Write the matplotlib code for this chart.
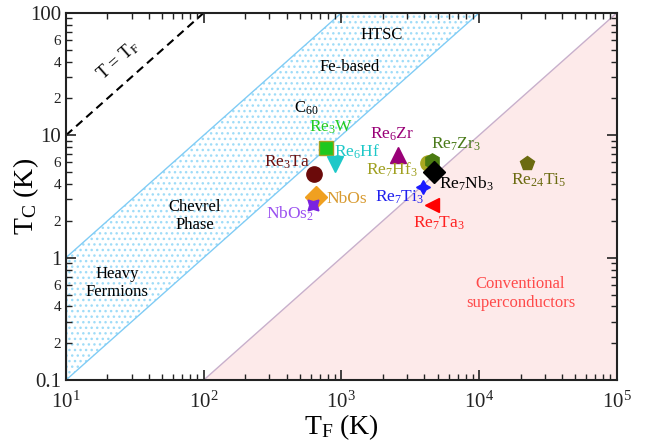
import numpy as np
import matplotlib
matplotlib.use("Agg")
import matplotlib.pyplot as plt
from matplotlib.ticker import FixedLocator, FuncFormatter, LogFormatterMathtext, NullFormatter

plt.rcParams['font.family'] = ['Liberation Serif', 'DejaVu Serif']
plt.rcParams['mathtext.fontset'] = 'custom'
plt.rcParams['mathtext.rm'] = 'Liberation Serif'
plt.rcParams['mathtext.it'] = 'Liberation Serif:italic'
plt.rcParams['mathtext.bf'] = 'Liberation Serif:bold'
plt.rcParams['hatch.linewidth'] = 1.0

# ---- data ----
materials = ["Re$_3$W", "Re$_6$Hf", "Re$_3$Ta", "NbOs", "NbOs$_2$", "Re$_6$Zr",
             "Re$_7$Hf$_3$", "Re$_7$Zr$_3$", "Re$_7$Nb$_3$", "Re$_7$Ti$_3$",
             "Re$_7$Ta$_3$", "Re$_{24}$Ti$_5$"]
TF = [774, 905, 637, 659, 617, 2590, 4265, 4560, 4720, 3930, 4560, 22300]
TC = [7.8, 5.8, 4.8, 3.16, 2.7, 6.85, 5.9, 6.2, 5.0, 3.8, 2.7, 5.9]

# label positions (data coords)
label_x = [841, 1306, 406, 1086, 420, 2345, 2345, 6800, 8050, 2630, 5130, 27200]
label_y = [11.6, 7.3, 6.0, 3.0, 2.3, 10.2, 5.2, 8.4, 4.05, 3.1, 1.9, 4.3]

# styles
markers = ['s', 'v', 'o', 'D', (4, 1, 45), '^', 'o', 'h', 'D', (4, 1, 0), '<', 'p']
mcolors = ['#1ec81e', '#1ec8c8', '#6b0a0a', '#f0a020', '#7a22e0', '#990077',
           '#a8a820', '#4a7a10', '#000000', '#1a1aff', '#ff0000', '#6b6b10']
medges = ['#a0a020', '#1ec8c8', '#6b0a0a', '#f0a020', '#7a22e0', '#990077',
          '#a8a820', '#4a7a10', '#000000', '#1a1aff', '#ff0000', '#6b6b10']
msizes = [10, 11, 11, 11, 11, 11, 11, 11, 11, 10, 10, 10]
lcolors = ['#22cc22', '#1ec8c8', '#6b1010', '#d89a30', '#9a50f0', '#990077',
           '#a0a020', '#4a7a1a', '#000000', '#2020ee', '#ff2020', '#6b6b10']

fig = plt.figure(figsize=(6.62, 4.44), dpi=100)
ax = fig.add_axes([0.0997, 0.144, 0.832, 0.827])
ax.set_xscale('log')
ax.set_yscale('log')
ax.set_xlim(10, 1e5)
ax.set_ylim(0.1, 100)

xx = np.logspace(1, 5, 200)
# pink conventional region
ax.fill_between(xx, 0.1, np.clip(xx / 1000, 0.1, 100), facecolor='#fdeaea', edgecolor='none', zorder=0)
ax.plot(xx, xx / 1000, color='#c8b0cc', lw=1.0, zorder=1)
# band of unconventional
ax.fill_between(xx, np.clip(xx / 100, 0.1, 100), np.clip(xx / 10, 0.1, 100),
                facecolor='none', edgecolor='#9fdcf8', hatch='...', linewidth=0, zorder=0)
ax.plot(xx, xx / 10, color='#80ccf5', lw=1.0, zorder=1)
ax.plot(xx, xx / 100, color='#80ccf5', lw=1.0, zorder=1)
ax.plot([10, 10], [0.1, 1], color='#80ccf5', lw=1.0, zorder=1)
# T = TF
ax.plot(xx, xx, color='black', ls='--', lw=1.5, dashes=(4, 2.5), zorder=1)
ax.text(24, 41, "T = T$_\\mathrm{F}$", rotation=41.5, ha='center', va='center', fontsize=13)

# region labels
ax.text(1950, 66, "HTSC", ha='center', va='center', fontsize=12)
ax.text(1143, 36, "Fe-based", ha='center', va='center', fontsize=12)
ax.text(557, 16.6, "C$_{60}$", ha='center', va='center', fontsize=12)
ax.text(86, 2.2, "Chevrel\nPhase", ha='center', va='center', fontsize=12, linespacing=1.2)
ax.text(23.4, 0.62, "Heavy\nFermions", ha='center', va='center', fontsize=12, linespacing=1.2)
ax.text(2.0e4, 0.51, "Conventional\nsuperconductors", ha='center', va='center', fontsize=12,
        color='#ff4a4a', linespacing=1.2)

for i in range(len(materials)):
    ax.plot(TF[i], TC[i], marker=markers[i], ms=msizes[i], color=mcolors[i],
            mec=medges[i], mew=1.0, ls='none', zorder=3)
    ax.text(label_x[i], label_y[i], materials[i], color=lcolors[i], fontsize=12.5,
            ha='center', va='center', zorder=4)

# ticks
ax.xaxis.set_major_formatter(LogFormatterMathtext())
ax.xaxis.set_minor_formatter(NullFormatter())
ax.yaxis.set_major_locator(FixedLocator([0.1, 1, 10, 100]))
ax.yaxis.set_major_formatter(FuncFormatter(lambda v, p: {0.1: '0.1', 1: '1', 10: '10', 100: '100'}.get(round(v, 3), '')))
minor_y = [m * 10.0 ** e for e in (-1, 0, 1) for m in range(2, 10)]
ax.yaxis.set_minor_locator(FixedLocator(minor_y))

def minor_fmt(v, p):
    e = np.floor(np.log10(v) + 1e-9)
    m = int(round(v / 10 ** e))
    return str(m) if m in (2, 4, 6) else ''

ax.yaxis.set_minor_formatter(FuncFormatter(minor_fmt))
ax.tick_params(which='both', direction='in', top=True, right=True, colors='#222222')
ax.tick_params(which='major', length=7, width=1.2, labelsize=15)
ax.tick_params(which='minor', length=4, width=1.0)
ax.tick_params(axis='y', which='minor', labelsize=11)
ax.tick_params(axis='x', which='major', pad=8)
for s in ax.spines.values():
    s.set_linewidth(1.5)
    s.set_color('#222222')

ax.set_xlabel("T$_\\mathrm{F}$ (K)", fontsize=20, labelpad=0)
ax.set_ylabel("T$_\\mathrm{C}$ (K)", fontsize=20)
ax.yaxis.set_label_coords(-0.045, 0.5)

fig.savefig("out.png", dpi=100)
